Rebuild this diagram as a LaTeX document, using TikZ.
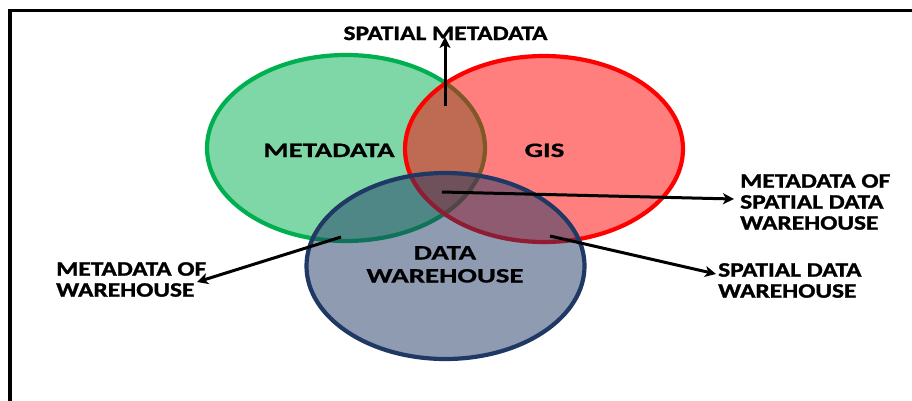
\documentclass[tikz,border=0pt]{standalone}
\usepackage{fontspec}
\usetikzlibrary{arrows.meta}
\newfontfamily\labout{Carlito}[FakeStretch=1.24,FakeBold=1.3]
\newfontfamily\labin{Carlito}[FakeStretch=1.41,FakeBold=0.6]
\definecolor{vgreen}{HTML}{00B050}
\definecolor{vred}{HTML}{FF0000}
\definecolor{vblue}{HTML}{1F3864}
\tikzset{
  setline/.style={line width=4.2pt},
  outlab/.style={font=\labout\bfseries\fontsize{20.5}{21}\selectfont, inner sep=0pt, align=left, text=black},
  inlab/.style={font=\labin\bfseries\fontsize{20.5}{23}\selectfont, inner sep=0pt, align=center, text=black},
  arr/.style={line width=3pt, -{Stealth[length=11pt,width=11pt,inset=3pt]}},
  frameline/.style={line width=3.4pt, line join=miter}
}
\begin{document}
\begin{tikzpicture}[x=1pt,y=-1pt]
\useasboundingbox (0,0) rectangle (912,400);
\fill[white] (0,0) rectangle (912,400);
\draw[frameline] (10,402) -- (10,10.7) -- (914,10.7);
% sets
\draw[setline, draw=vgreen, fill=vgreen, fill opacity=0.5] (346,148) ellipse [x radius=139, y radius=93];
\draw[setline, draw=vred, fill=vred, fill opacity=0.5] (544,149) ellipse [x radius=139, y radius=93];
\draw[setline, draw=vblue, fill=vblue, fill opacity=0.5] (445.5,266) ellipse [x radius=139, y radius=93];
% labels
\node[inlab, anchor=base] (meta) at (329,157) {METADATA};
\node[inlab, anchor=base] (gis) at (544.5,157) {GIS};
\node[inlab, anchor=north] (dw) at (445,246) {DATA\\WAREHOUSE};
\node[outlab, anchor=base] (sm) at (445.5,40) {SPATIAL METADATA};
\node[outlab, anchor=north west] (msdw) at (740,174) {METADATA OF\\SPATIAL DATA\\WAREHOUSE};
\node[outlab, anchor=north west] (sdw) at (718,263) {SPATIAL DATA\\WAREHOUSE};
\node[outlab, anchor=north west] (mw) at (56,262) {METADATA OF\\WAREHOUSE};
% arrow end points
\coordinate (s1) at (445,106);
\coordinate (e1) at (445,37);
\coordinate (s2) at (442,192);
\coordinate (e2) at (734,199);
\coordinate (s3) at (550,236);
\coordinate (e3) at (716,274);
\coordinate (s4) at (341,237);
\coordinate (e4) at (197,282);
\draw[arr] (s1) -- (e1);
\draw[arr] (s2) -- (e2);
\draw[arr] (s3) -- (e3);
\draw[arr] (s4) -- (e4);
\end{tikzpicture}
\end{document}
